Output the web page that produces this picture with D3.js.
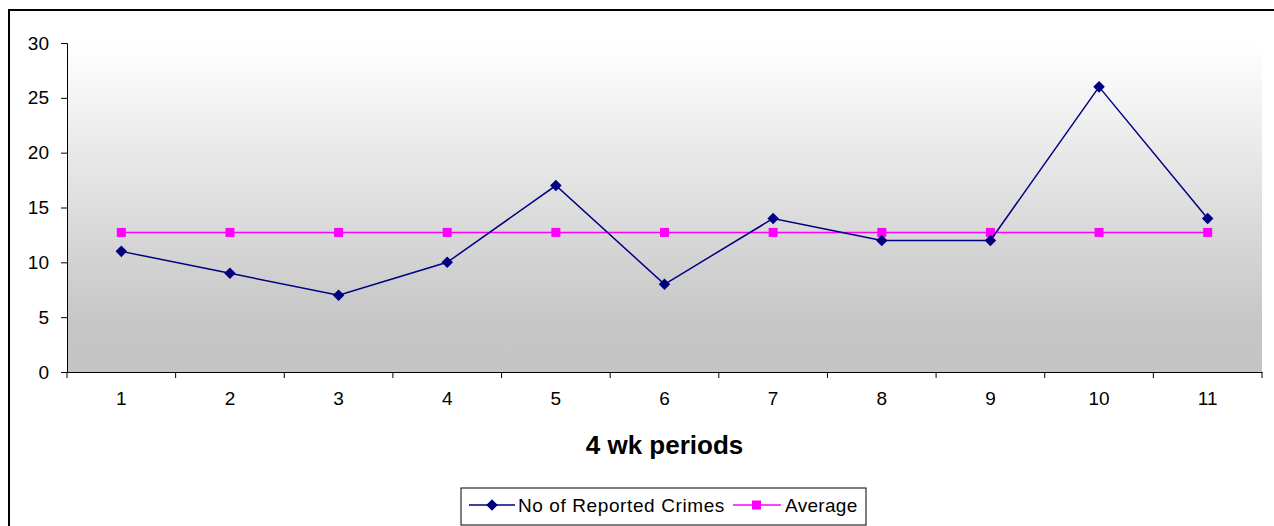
<!DOCTYPE html>
<html>
<head>
<meta charset="utf-8">
<script src="https://cdn.jsdelivr.net/npm/d3@7"></script>
<style>
  body { margin: 0; background: #fff; }
  text { font-family: Arial, "Liberation Sans", sans-serif; }
</style>
</head>
<body>
<svg id="chart" width="1274" height="526"></svg>
<script>
// data
const periods = ['1', '2', '3', '4', '5', '6', '7', '8', '9', '10', '11'];
const crimes = [11, 9, 7, 10, 17, 8, 14, 12, 12, 26, 14];
const yTicks = [0, 5, 10, 15, 20, 25, 30];
const avg = d3.mean(crimes);
const average = periods.map(() => avg);

const svg = d3.select('#chart');
const margin = {left: 67, top: 43, right: 1262, bottom: 372};

// outer chart border
svg.append('rect')
  .attr('x', 9).attr('y', 10)
  .attr('width', 1280).attr('height', 540)
  .attr('fill', '#fff')
  .attr('stroke', '#000').attr('stroke-width', 2);

// plot background gradient
const grad = svg.append('defs').append('linearGradient')
  .attr('id', 'bg').attr('x1', 0).attr('y1', 0).attr('x2', 0).attr('y2', 1);
grad.append('stop').attr('offset', '0%').attr('stop-color', '#ffffff');
grad.append('stop').attr('offset', '85%').attr('stop-color', '#c6c6c6');
grad.append('stop').attr('offset', '100%').attr('stop-color', '#c4c4c4');

const x = d3.scaleBand().domain(periods).range([margin.left, margin.right]);
const y = d3.scaleLinear().domain([0, 30]).range([margin.bottom, margin.top]);

svg.append('rect')
  .attr('x', margin.left).attr('y', margin.top)
  .attr('width', margin.right - margin.left)
  .attr('height', margin.bottom - margin.top)
  .attr('fill', 'url(#bg)');

// y axis
const yAxis = svg.append('g')
  .attr('transform', `translate(${margin.left},0)`)
  .call(d3.axisLeft(y).tickValues(yTicks).tickSize(6).tickPadding(12));
yAxis.select('.domain').attr('stroke', '#000');
yAxis.selectAll('text').attr('font-size', 19).attr('fill', '#000');

// x axis: ticks at category boundaries
const xAxis = svg.append('g')
  .attr('transform', `translate(0,${margin.bottom})`)
  .call(d3.axisBottom(x).tickSize(0).tickPadding(20));
xAxis.select('.domain').attr('stroke', '#000');
xAxis.selectAll('text').attr('font-size', 19).attr('fill', '#000');
const bounds = periods.map(p => x(p)).concat([margin.right]);
xAxis.selectAll('line.bound')
  .data(bounds)
  .enter().append('line')
  .attr('class', 'bound')
  .attr('x1', d => d).attr('x2', d => d)
  .attr('y1', 0).attr('y2', 6)
  .attr('stroke', '#000');

const cx = p => x(p) + x.bandwidth() / 2;

// average line
const line = d3.line().x((d, i) => cx(periods[i])).y(d => y(d));
svg.append('path')
  .datum(average)
  .attr('d', line)
  .attr('fill', 'none')
  .attr('stroke', '#ff00ff').attr('stroke-width', 1.5);
svg.selectAll('rect.avg')
  .data(average)
  .enter().append('rect')
  .attr('class', 'avg')
  .attr('x', (d, i) => cx(periods[i]) - 4.5)
  .attr('y', d => y(d) - 4.5)
  .attr('width', 9).attr('height', 9)
  .attr('fill', '#ff00ff');

// crimes line
svg.append('path')
  .datum(crimes)
  .attr('d', line)
  .attr('fill', 'none')
  .attr('stroke', '#000080').attr('stroke-width', 1.5);
const diamond = d3.symbol().type(d3.symbolDiamond2).size(85);
svg.selectAll('path.crime')
  .data(crimes)
  .enter().append('path')
  .attr('class', 'crime')
  .attr('d', diamond)
  .attr('transform', (d, i) => `translate(${cx(periods[i])},${y(d)})`)
  .attr('fill', '#000080');

// x axis title
svg.append('text')
  .attr('x', (margin.left + margin.right) / 2)
  .attr('y', 454)
  .attr('text-anchor', 'middle')
  .attr('font-size', 26).attr('font-weight', 'bold')
  .text('4 wk periods');

// legend
const lg = svg.append('g').attr('transform', 'translate(461,488)');
lg.append('rect')
  .attr('x', 0).attr('y', 0).attr('width', 405).attr('height', 37)
  .attr('fill', '#fff').attr('stroke', '#000');
lg.append('line').attr('x1', 8).attr('x2', 54).attr('y1', 17).attr('y2', 17)
  .attr('stroke', '#000080').attr('stroke-width', 1.5);
lg.append('path').attr('d', diamond)
  .attr('transform', 'translate(31,17)').attr('fill', '#000080');
lg.append('text').attr('x', 57).attr('y', 24)
  .attr('font-size', 19).attr('letter-spacing', 0.6).text('No of Reported Crimes');
lg.append('line').attr('x1', 272).attr('x2', 320).attr('y1', 17).attr('y2', 17)
  .attr('stroke', '#ff00ff').attr('stroke-width', 1.5);
lg.append('rect').attr('x', 291).attr('y', 12.5).attr('width', 9).attr('height', 9)
  .attr('fill', '#ff00ff');
lg.append('text').attr('x', 324).attr('y', 24)
  .attr('font-size', 19).attr('letter-spacing', 0.3).text('Average');
</script>
</body>
</html>
